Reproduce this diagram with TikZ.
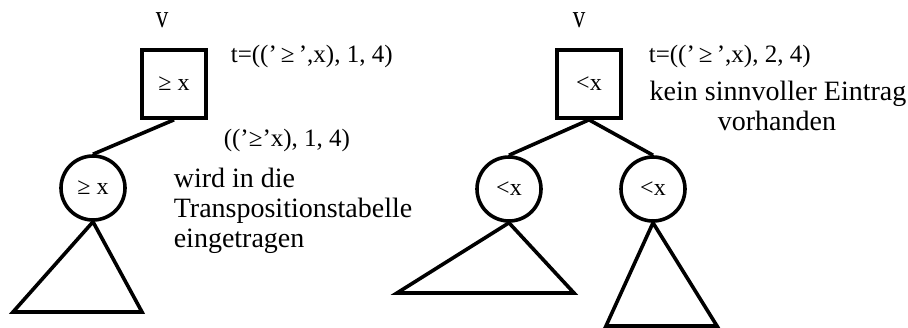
\documentclass[tikz,border=0pt]{standalone}
\usepackage{fontspec}
\setmainfont{Liberation Serif}
\newcommand{\tallv}{\scalebox{1}[1.3]{v}}
\newcommand{\lowt}[1]{\raisebox{-3pt}{#1}}
\begin{document}
\begin{tikzpicture}[x=1pt,y=-1pt,line width=3.6pt,
  sq/.style={draw,minimum width=64pt,minimum height=68pt,inner sep=0pt,font=\fontsize{24}{26}\selectfont},
  cn/.style={draw,circle,minimum size=64pt,inner sep=0pt,font=\fontsize{24}{26}\selectfont},
  lbl/.style={inner sep=0pt,font=\fontsize{25}{28}\selectfont},
  body/.style={inner sep=0pt,font=\fontsize{28}{30}\selectfont},
  tri/.style={line join=miter}]
\useasboundingbox (0,0) rectangle (908,327);
% left tree
\node[sq] (s1) at (174,84) {\lowt{≥ x}};
\node[cn] (c1) at (93,188) {\lowt{≥ x}};
\node[lbl,anchor=base] (v1) at (162,27) {\tallv};
\node[lbl,anchor=base west] (t1) at (229,62) {t=((’\,≥\,’,x), 1, 4)};
\node[lbl,anchor=base west] (e1) at (222,146) {((’≥’x), 1, 4)};
\node[body,anchor=base west] (w1) at (172,187) {wird in die};
\node[body,anchor=base west] (w2) at (172,217) {Transpositionstabelle};
\node[body,anchor=base west] (w3) at (172,247) {eingetragen};
\coordinate (b1l) at (13,312);
\coordinate (b1r) at (142,312);
\draw (s1.south) -- (c1.north);
\draw[tri] (c1.south) -- (b1l) -- (b1r) -- cycle;
% right tree
\node[sq] (s2) at (589,84) {\lowt{<x}};
\node[cn] (c2) at (509,189) {\lowt{<x}};
\node[cn] (c3) at (653,189) {\lowt{<x}};
\node[lbl,anchor=base] (v2) at (579,27) {\tallv};
\node[lbl,anchor=base west] (t2) at (647,62) {t=((’\,≥\,’,x), 2, 4)};
\node[body,anchor=base] (k1) at (778,100) {kein sinnvoller Eintrag};
\node[body,anchor=base] (k2) at (777,130) {vorhanden};
\coordinate (b2l) at (397,293);
\coordinate (b2r) at (574,293);
\coordinate (b3l) at (606,326);
\coordinate (b3r) at (717,326);
\draw (s2.south) -- (c2.north);
\draw (s2.south) -- (c3.north);
\draw[tri] (c2.south) -- (b2l) -- (b2r) -- cycle;
\draw[tri] (c3.south) -- (b3l) -- (b3r) -- cycle;
\end{tikzpicture}
\end{document}
